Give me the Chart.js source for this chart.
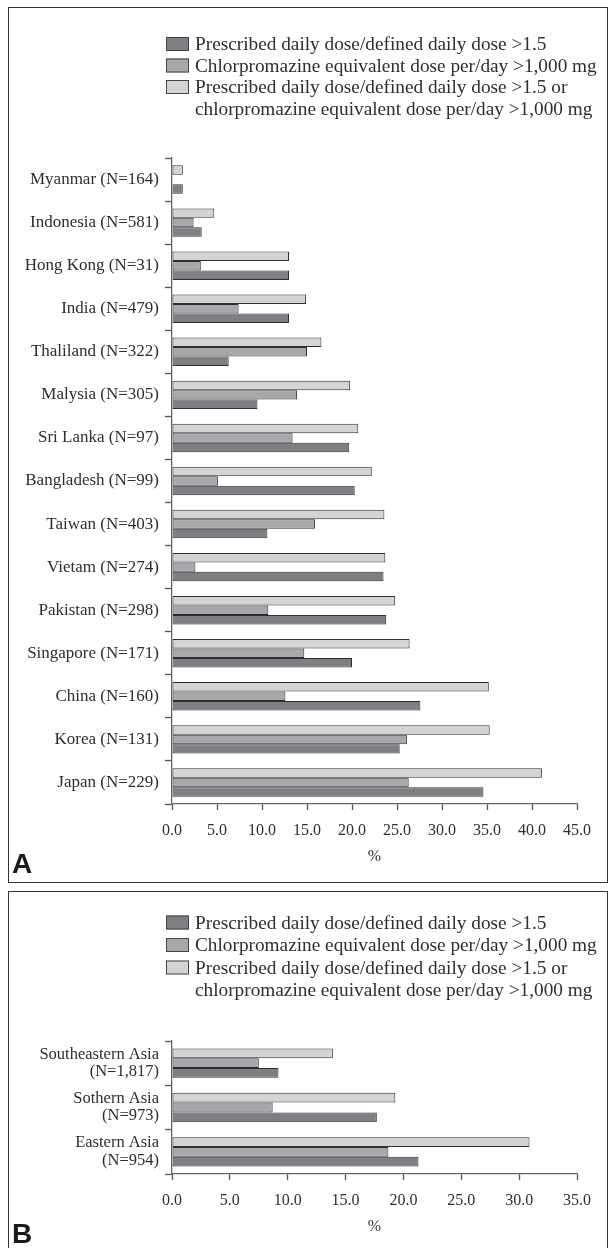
<!DOCTYPE html>
<html>
<head>
<meta charset="utf-8">
<script src="https://cdn.jsdelivr.net/npm/chart.js@4"></script>
<style>
  body { margin: 0; background: #fff; width: 608px; height: 1248px; overflow: hidden; position: relative; }
  .box { position: absolute; border: 1.5px solid #333; box-sizing: border-box; }
  #boxA { left: 8px; top: 7px; width: 600px; height: 876px; }
  #boxB { left: 8px; top: 891px; width: 600px; height: 400px; }
  .wrap { position: absolute; left: 0; }
  #wrapA { top: 0; width: 608px; height: 882px; }
  #wrapB { top: 884px; width: 608px; height: 364px; }
  .tag { position: absolute; left: 12px; font: bold 28px "Liberation Sans", Arial, sans-serif; line-height: 28px; color: #1a1a1a; }
</style>
</head>
<body>
<div class="box" id="boxA"></div>
<div class="box" id="boxB"></div>
<div class="wrap" id="wrapA"><canvas id="chartA" width="608" height="882"></canvas></div>
<div class="wrap" id="wrapB"><canvas id="chartB" width="608" height="364"></canvas></div>
<div class="tag" style="top:850px">A</div>
<div class="tag" style="top:1220px">B</div>
<script>
// --- data (percent of patients) ---
const countries = [
  'Myanmar (N=164)', 'Indonesia (N=581)', 'Hong Kong (N=31)', 'India (N=479)',
  'Thaliland (N=322)', 'Malysia (N=305)', 'Sri Lanka (N=97)', 'Bangladesh (N=99)',
  'Taiwan (N=403)', 'Vietam (N=274)', 'Pakistan (N=298)', 'Singapore (N=171)',
  'China (N=160)', 'Korea (N=131)', 'Japan (N=229)'
];
const pddA    = [1.2, 3.3, 13.0, 13.0, 6.3, 9.5, 19.7, 20.3, 10.6, 23.5, 23.8, 20.0, 27.6, 25.3, 34.6];
const cpzA    = [0, 2.4, 3.2, 7.4, 15.0, 13.9, 13.4, 5.1, 15.9, 2.6, 10.7, 14.7, 12.6, 26.1, 26.3];
const eitherA = [1.2, 4.7, 13.0, 14.9, 16.6, 19.8, 20.7, 22.2, 23.6, 23.7, 24.8, 26.4, 35.2, 35.3, 41.1];

const regions = [
  ['Southeastern Asia', '(N=1,817)'],
  ['Sothern Asia', '(N=973)'],
  ['Eastern Asia', '(N=954)']
];
const pddB    = [9.2, 17.7, 21.3];
const cpzB    = [7.5, 8.7, 18.7];
const eitherB = [13.9, 19.3, 30.9];

const seriesNames = [
  'Prescribed daily dose/defined daily dose >1.5',
  'Chlorpromazine equivalent dose per/day >1,000 mg',
  ['Prescribed daily dose/defined daily dose >1.5 or', 'chlorpromazine equivalent dose per/day >1,000 mg']
];
const xMaxA = 45, xMaxB = 35;

const SERIF = '"Liberation Serif", "Times New Roman", serif';
const TXT = '#2e2e2e';

// legend drawn as in the figure: box + text, last label on two lines
const boxLegend = {
  id: 'boxLegend',
  afterDraw(chart, args, o) {
    const ctx = chart.ctx;
    const items = chart.data.datasets.slice().reverse();
    ctx.save();
    ctx.font = '19.3px ' + SERIF;
    ctx.textBaseline = 'middle';
    let y = o.top;
    items.forEach(ds => {
      ctx.fillStyle = ds.backgroundColor;
      ctx.fillRect(o.x, y - 7, 23, 14);
      ctx.strokeStyle = '#444';
      ctx.lineWidth = 1;
      ctx.strokeRect(o.x + 0.5, y - 6.5, 22, 13);
      [].concat(ds.label).forEach(t => {
        ctx.fillStyle = TXT;
        ctx.fillText(t, o.x + 29, y + 1);
        y += o.step;
      });
    });
    ctx.restore();
  }
};

function makeChart(id, labels, pdd, cpz, either, xMax, cfg) {
  const ds = (label, data, color) => ({
    label, data,
    backgroundColor: color,
    borderColor: '#2e2e2e',
    borderWidth: 1,
    borderSkipped: false,
    categoryPercentage: 0.66,
    barPercentage: 1.0
  });
  return new Chart(document.getElementById(id), {
    type: 'bar',
    data: {
      labels: labels,
      datasets: [
        ds(seriesNames[2], either, '#d3d4d6'),
        ds(seriesNames[1], cpz, '#a7a8aa'),
        ds(seriesNames[0], pdd, '#7e7f82')
      ]
    },
    options: {
      indexAxis: 'y',
      responsive: false,
      animation: false,
      devicePixelRatio: 1,
      layout: { padding: { top: cfg.padTop, right: 31, left: 0, bottom: 0 } },
      plugins: {
        legend: { display: false },
        tooltip: { enabled: false },
        boxLegend: { x: 166, top: cfg.legTop, step: cfg.legStep }
      },
      scales: {
        y: {
          offset: true,
          grid: { offset: true, drawOnChartArea: false, tickLength: 7, tickColor: '#555', tickWidth: 1.3 },
          border: { color: '#666', width: 1.3 },
          ticks: {
            color: TXT, padding: 6, autoSkip: false,
            font: { family: SERIF, size: cfg.labelSize, lineHeight: 1.05 }
          },
          afterFit: s => { s.width = 172; }
        },
        x: {
          min: 0, max: xMax,
          grid: { drawOnChartArea: false, tickLength: 6, tickColor: '#555', tickWidth: 1.3 },
          border: { color: '#666', width: 1.3 },
          ticks: {
            stepSize: 5, color: TXT, padding: 11, maxRotation: 0,
            font: { family: SERIF, size: 16 },
            callback: v => v.toFixed(1)
          },
          title: {
            display: true, text: '%', color: TXT,
            font: { family: SERIF, size: 16 },
            padding: { top: 0, bottom: cfg.titlePad }
          },
          afterFit: s => { s.height = cfg.xHeight; }
        }
      }
    },
    plugins: [boxLegend]
  });
}

makeChart('chartA', countries, pddA, cpzA, eitherA, xMaxA,
  { padTop: 158, xHeight: 78, titlePad: 15.4, legTop: 44, legStep: 21.5, labelSize: 17 });
makeChart('chartB', regions, pddB, cpzB, eitherB, xMaxB,
  { padTop: 157, xHeight: 74, titlePad: 11.4, legTop: 38.5, legStep: 22.5, labelSize: 16.5 });
</script>
</body>
</html>
